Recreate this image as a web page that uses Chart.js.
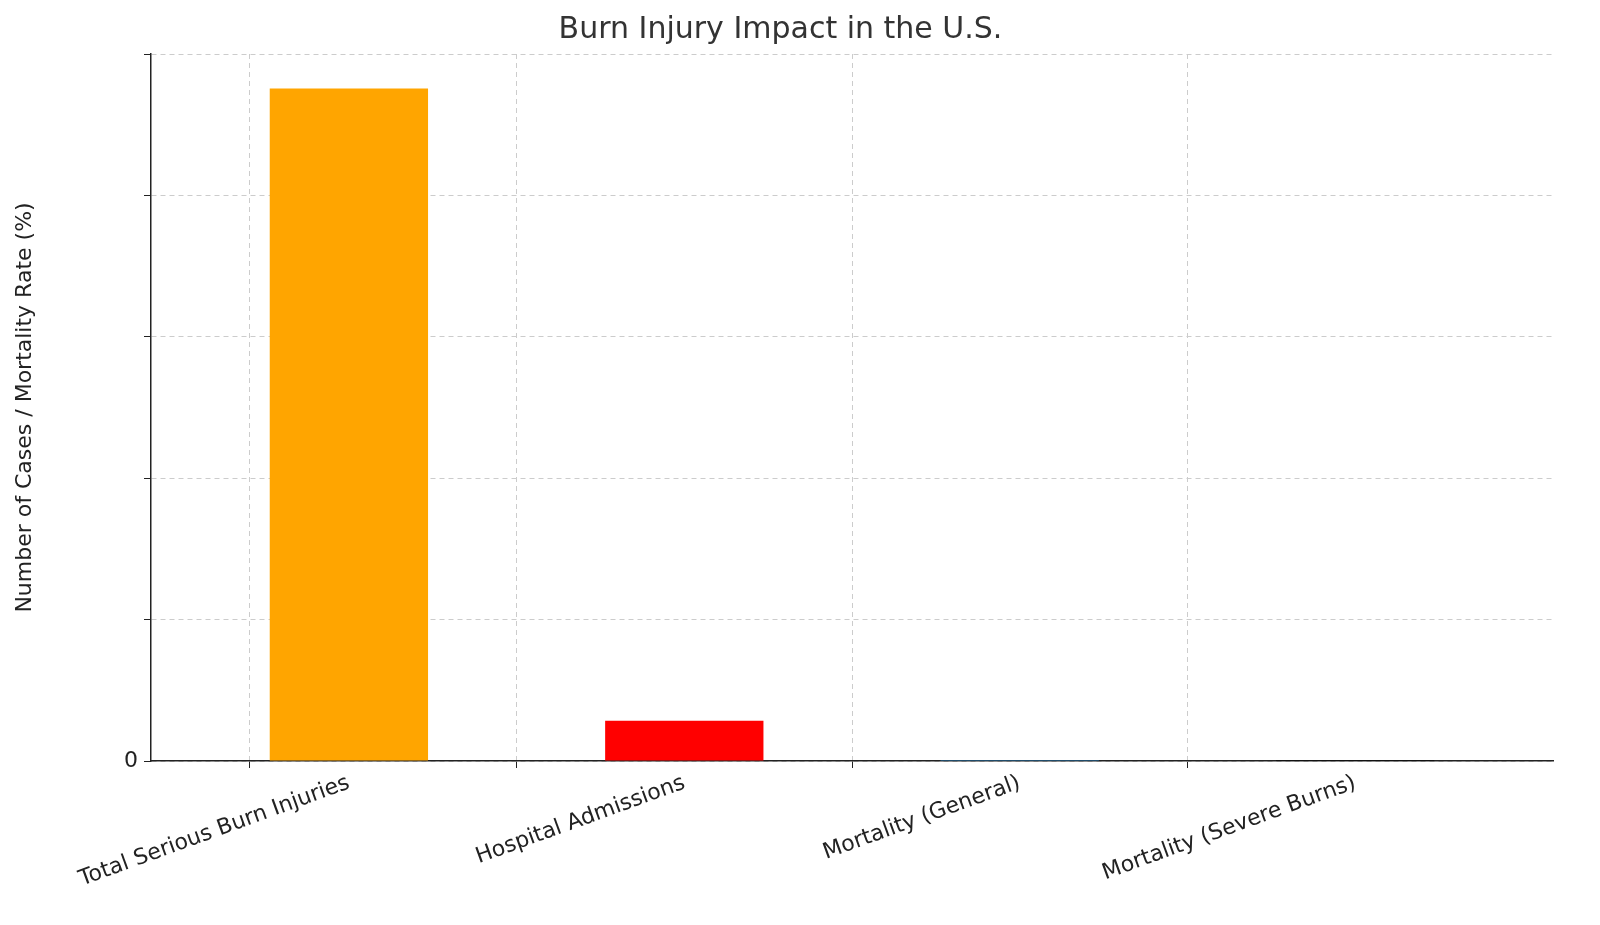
<!DOCTYPE html>
<html><head><script src="https://cdn.jsdelivr.net/npm/chart.js@4"></script>
<style>body{margin:0;background:#fff}#w{width:1600px;height:925px}</style></head>
<body><div id="w"><canvas id="c"></canvas></div>
<script>
const categories=["Total Serious Burn Injuries","Hospital Admissions","Mortality (General)","Mortality (Severe Burns)"];
const values=[500000,30000,3.3,50];
const colors=["orange","red","#1f77b4","black"];
const F="'DejaVu Sans'";
const isInt=v=>Math.abs(v-Math.round(v))<1e-6;
new Chart(document.getElementById('c'),{
type:'bar',
data:{datasets:[{data:values.map((v,i)=>({x:i,y:v})),backgroundColor:colors,barPercentage:0.8,categoryPercentage:1}]},
options:{responsive:true,maintainAspectRatio:false,animation:false,
layout:{padding:{left:8,right:47,top:12,bottom:0}},
plugins:{legend:{display:false},tooltip:{enabled:false},
title:{display:true,text:"Burn Injury Impact in the U.S.",color:'#333',font:{family:F,size:30,weight:'normal'},padding:{top:0,bottom:6}}},
scales:{
x:{type:'linear',min:-0.59,max:3.59,offset:false,
ticks:{stepSize:1,autoSkip:false,callback:v=>isInt(v)?(categories[Math.round(v)]||''):'',minRotation:20,maxRotation:20,color:'#222',font:{family:F,size:22},padding:2},
afterFit:s=>{s.height=164;},
grid:{color:c=>(c.tick&&isInt(c.tick.value))?'#ccc':'rgba(0,0,0,0)',tickColor:c=>(c.tick&&isInt(c.tick.value))?'#222':'rgba(0,0,0,0)',tickLength:7},
border:{color:'#222',width:1.5,dash:[5,4]}},
y:{min:0,max:525600,
ticks:{stepSize:100000,color:'#222',font:{family:F,size:22},padding:6,callback:v=>v%100000===0?String(v):''},
afterFit:s=>{s.width=143;},
title:{display:true,text:"Number of Cases / Mortality Rate (%)",color:'#222',font:{family:F,size:22}},
grid:{color:'#ccc',tickColor:'#222',tickLength:7},
border:{color:'#222',width:1.5,dash:[5,4]}}
}}});
</script></body></html>
